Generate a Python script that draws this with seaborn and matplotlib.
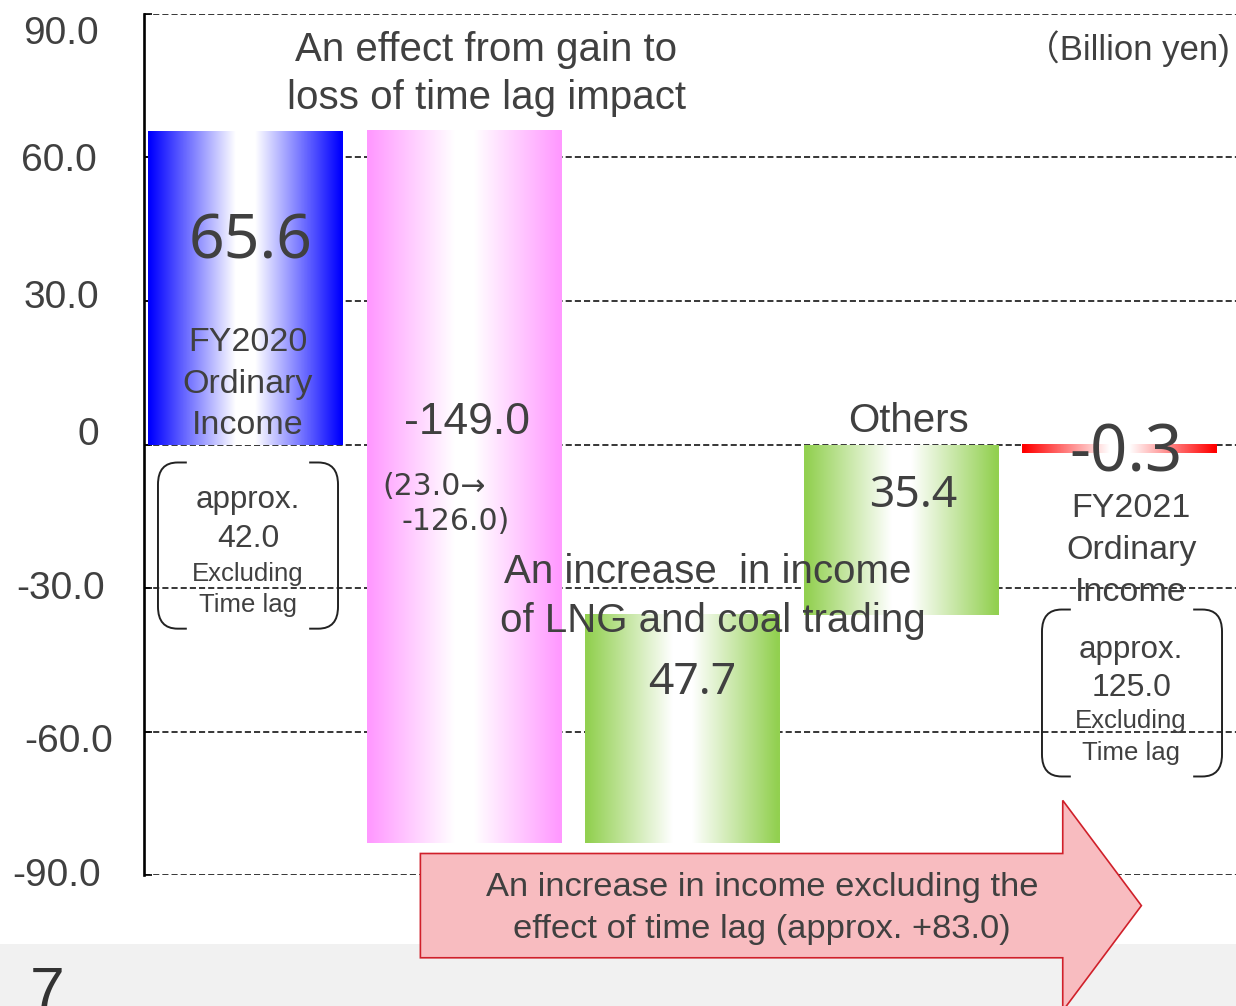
import numpy as np
import pandas as pd
import seaborn as sns
import matplotlib.pyplot as plt
from matplotlib.colors import to_rgb
from matplotlib.patches import Polygon, PathPatch, Rectangle
from matplotlib.path import Path
from matplotlib.transforms import ScaledTranslation

# data ------------------------------------------------------------------------
steps = ["FY2020", "Time lag", "LNG and coal", "Others", "FY2021"]
values = [65.6, -149.0, 47.7, 35.4, -0.3]
is_total = [True, False, False, False, True]
value_labels = ["65.6", "-149.0", "47.7", "35.4", "-0.3"]
bar_colors = ["#0000ff", "#ff99ff", "#92d050", "#92d050", "#ff0000"]
yticks = [90, 60, 30, 0, -30, -60, -90]
ytick_labels = ["90.0", "60.0", "30.0", "0", "-30.0", "-60.0", "-90.0"]

# waterfall levels
lows, highs = [], []
running = 0.0
for v, tot in zip(values, is_total):
    start = 0.0 if tot else running
    end = v if tot else running + v
    lows.append(min(start, end))
    highs.append(max(start, end))
    running = end

df = pd.DataFrame({"step": steps, "value": values})

sns.set_theme(style="white")
plt.rcParams["font.family"] = ["Liberation Sans", "DejaVu Sans"]
TXT = "#404040"

fig = plt.figure(figsize=(12.36, 10.06), dpi=100)
ax = fig.add_axes([0.1165, 0.1302, 0.8835, 0.8559])

sns.barplot(data=df, x="step", y="value", width=0.89, color="white", ax=ax)

# move bars to waterfall positions and fill with a centre-white gradient
min_h = 1.8  # keep tiny totals visible
t = np.abs(np.linspace(-1, 1, 256))
fade = np.clip((t - 0.1) / 0.88, 0, 1)
for patch, lo, hi, col in zip(ax.patches, lows, highs, bar_colors):
    if hi - lo < min_h:
        lo = hi - min_h
    patch.set_y(lo)
    patch.set_height(hi - lo)
    patch.set_facecolor("none")
    patch.set_edgecolor("none")
    c = np.array(to_rgb(col))
    img = 1 - (1 - c)[None, :] * fade[:, None]
    x0 = patch.get_x()
    w = patch.get_width()
    ax.imshow(img[None, :, :], extent=(x0, x0 + w, lo, hi), aspect="auto",
              interpolation="bilinear", zorder=2)

ax.set_xlim(-0.465, 4.533)
ax.set_ylim(-90, 90)
ax.set_xticks([])
ax.set_xlabel("")
ax.set_ylabel("")
ax.set_yticks(yticks, labels=ytick_labels)
ax.tick_params(axis="y", direction="in", length=6, width=1.2, color="black",
               pad=31, labelsize=28, labelcolor=TXT, left=True)
# the slide's tick labels sit a little off their gridlines
nudges = [(-2, 16), (-4, 0), (-2, -7), (-2, -14), (4, -3), (12, 6), (0, -3)]
for lab, (dx, dy) in zip(ax.get_yticklabels(), nudges):
    lab.set_transform(lab.get_transform()
                      + ScaledTranslation(dx / 100, -dy / 100, fig.dpi_scale_trans))
ax.yaxis.grid(True, color="black", linestyle=(0, (4, 2)), linewidth=1.1)
ax.xaxis.grid(False)
ax.set_axisbelow(True)
for s in ["top", "right", "bottom"]:
    ax.spines[s].set_visible(False)
ax.spines["left"].set_color("black")
ax.spines["left"].set_linewidth(1.9)


def put(x, y, s, size, family=None, **kw):
    kw.setdefault("ha", "center")
    kw.setdefault("va", "center")
    if family is not None:
        kw["family"] = family
    ax.text(x, y, s, fontsize=size, color=TXT, zorder=5, clip_on=False, **kw)


def bracket(xc, y_top, y_bot, half=0.412, inner=0.28, rx=0.09, ry=4.6):
    for sgn in (-1, 1):
        xo = xc + sgn * half
        xi = xc + sgn * inner
        xr = xo - sgn * rx
        verts = [(xi, y_top), (xr, y_top), (xo, y_top), (xo, y_top - ry),
                 (xo, y_bot + ry), (xo, y_bot), (xr, y_bot), (xi, y_bot)]
        codes = [Path.MOVETO, Path.LINETO, Path.CURVE3, Path.CURVE3,
                 Path.LINETO, Path.CURVE3, Path.CURVE3, Path.LINETO]
        ax.add_patch(PathPatch(Path(verts, codes), fill=False, lw=1.4,
                               edgecolor="#222222", zorder=4))


NUM = ["Noto Sans", "DejaVu Sans"]

# headings
put(1.101, 82.4, "An effect from gain to", 29)
put(1.101, 72.4, "loss of time lag impact", 29)
put(4.506, 82.8, "（Billion yen)", 25,
    family=["Liberation Sans", "Noto Sans CJK JP"], ha="right")

# bar 1
put(0.021, 42.3, value_labels[0], 45, family=NUM)
for y, s in zip([21.3, 12.6, 4.0], ["FY2020", "Ordinary", "Income"]):
    put(0.011, y, s, 24.5)
bracket(0.011, -3.76, -38.5)
put(0.011, -11.7, "approx.", 22.5)
put(0.011, -19.7, "42.0", 23)
put(0.011, -27.0, "Excluding", 18.5)
put(0.011, -33.5, "Time lag", 18.5)

# bar 2
put(1.014, 4.6, value_labels[1], 32)
put(0.625, -8.8, "(23.0→", 21.5, family=["DejaVu Sans"], ha="left")
put(0.712, -16.1, "-126.0)", 21.5, family=["DejaVu Sans"], ha="left")

# bar 3
put(2.117, -26.7, "An increase  in income", 29)
put(2.140, -36.8, "of LNG and coal trading", 29)
put(2.043, -49.8, value_labels[2], 32, family=NUM)

# bar 4
put(3.032, 5.0, "Others", 29)
put(3.055, -10.8, value_labels[3], 32, family=NUM)

# bar 5
put(4.030, -2.0, value_labels[4], 47, family=NUM)
for y, s in zip([-13.4, -22.1, -30.9], ["FY2021", "Ordinary", "Income"]):
    put(4.053, y, s, 24.5)
bracket(4.057, -34.5, -69.4)
put(4.053, -42.9, "approx.", 22.5)
put(4.053, -50.8, "125.0", 23)
put(4.053, -57.9, "Excluding", 18.5)
put(4.053, -64.4, "Time lag", 18.5)

# big arrow below the chart
x0, neck, tip = 0.80, 3.74, 4.10
yc, body, head = -96.4, 10.9, 22.0
arrow = Polygon([(x0, yc + body), (neck, yc + body), (neck, yc + head),
                 (tip, yc), (neck, yc - head), (neck, yc - body),
                 (x0, yc - body)], closed=True, facecolor="#f8bcc0",
                edgecolor="#d0202a", lw=1.2, clip_on=False, zorder=6)
ax.add_patch(arrow)
ax.text(2.364, -92.6, "An increase in income excluding the", fontsize=24.8,
        color=TXT, ha="center", va="center", zorder=7, clip_on=False)
ax.text(2.364, -101.4, "effect of time lag (approx. +83.0)", fontsize=24.8,
        color=TXT, ha="center", va="center", zorder=7, clip_on=False)

# page footer band
fig.patches.append(Rectangle((0, 0), 1, 62 / 1006, transform=fig.transFigure,
                             facecolor="#f1f1f1", edgecolor="none", zorder=-1))
fig.text(0.024, 1 - 965 / 1006, "7", fontsize=45, color="#333333",
         ha="left", va="top")

fig.savefig("out.png", dpi=100)
